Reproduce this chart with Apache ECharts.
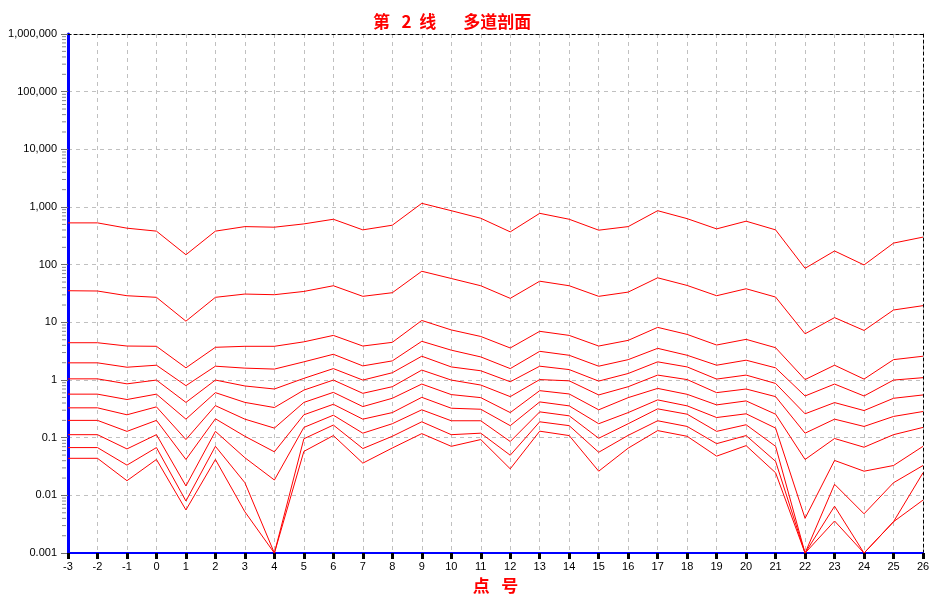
<!DOCTYPE html>
<html>
<head>
<meta charset="utf-8">
<script src="https://cdn.jsdelivr.net/npm/echarts@6/dist/echarts.min.js"></script>
<style>
html,body{margin:0;padding:0;background:#fff;overflow:hidden;}
#main{width:938px;height:599px;}
</style>
</head>
<body>
<div id="main"></div>
<script>
// Point numbers (x axis)
const points = [-3,-2,-1,0,1,2,3,4,5,6,7,8,9,10,11,12,13,14,15,16,17,18,19,20,21,22,23,24,25,26];

// Channel values (one array per trace, top to bottom)
const ch1 = [531,531,430,382,149,382,458,447,510,614,402,484,1159,864,639,371,778,614,397,458,864,629,418,568,402,86.7,173,99,237,301];
const ch2 = [35.4,35,29,27.2,10.5,27.2,31,30.2,34.4,43.2,28.3,32.7,77,57.7,43.2,26.1,51.8,43.2,28.3,33.5,59.3,43.7,29,38.3,27.5,6.34,12.1,7.25,16.4,19.5];
const ch3 = [4.44,4.44,3.89,3.85,1.63,3.7,3.85,3.85,4.6,5.95,3.89,4.51,10.8,7.4,5.7,3.6,7.0,5.95,3.89,4.88,8.2,6.19,4.05,5.08,3.64,1.02,1.81,1.04,2.26,2.59];
const ch4 = [1.99,1.99,1.67,1.81,0.80,1.74,1.61,1.55,2.07,2.80,1.76,2.15,4.7,3.3,2.52,1.58,3.15,2.69,1.74,2.26,3.55,2.69,1.81,2.21,1.63,0.53,0.853,0.53,1.0,1.1];
const ch5 = [1.05,1.05,0.86,1.0,0.41,1.0,0.79,0.70,1.07,1.58,1.0,1.34,2.59,1.69,1.45,0.935,1.74,1.52,0.96,1.3,2.07,1.69,1.04,1.22,0.874,0.26,0.407,0.296,0.483,0.552];
const ch6 = [0.57,0.57,0.46,0.57,0.21,0.605,0.41,0.334,0.67,1.0,0.589,0.767,1.49,1.0,0.82,0.516,1.02,0.97,0.552,0.767,1.22,1.02,0.605,0.70,0.516,0.12,0.21,0.157,0.234,0.285];
const ch7 = [0.33,0.33,0.25,0.343,0.093,0.36,0.21,0.147,0.41,0.612,0.347,0.483,0.853,0.56,0.496,0.273,0.655,0.574,0.305,0.496,0.717,0.566,0.371,0.435,0.256,0.042,0.097,0.0685,0.113,0.151];
const ch8 = [0.2,0.2,0.129,0.2,0.042,0.213,0.106,0.057,0.25,0.38,0.21,0.273,0.502,0.325,0.312,0.162,0.418,0.357,0.175,0.273,0.453,0.357,0.224,0.26,0.147,0.004,0.0404,0.0263,0.033,0.071];
const ch9 = [0.113,0.113,0.064,0.113,0.0146,0.129,0.045,0.0185,0.151,0.246,0.12,0.175,0.305,0.197,0.197,0.086,0.281,0.24,0.098,0.175,0.317,0.256,0.129,0.168,0.071,0.001,0.0156,0.0048,0.0166,0.033];
const ch10 = [0.0675,0.0675,0.0335,0.0675,0.008,0.071,0.0166,0.001,0.096,0.166,0.065,0.106,0.189,0.113,0.12,0.0498,0.189,0.162,0.056,0.11,0.197,0.157,0.079,0.109,0.039,0.001,0.0065,0.001,0.0035,0.0247];
const ch11 = [0.044,0.044,0.018,0.042,0.0056,0.042,0.0052,0.001,0.058,0.109,0.0363,0.0664,0.118,0.071,0.093,0.0289,0.13,0.109,0.0263,0.066,0.133,0.106,0.048,0.073,0.0247,0.001,0.0036,0.001,0.0035,0.0083];

const channels = [ch1,ch2,ch3,ch4,ch5,ch6,ch7,ch8,ch9,ch10,ch11];

// Axis settings
const yMin = 0.001, yMax = 1000000;
const decadeExps = [-3,-2,-1,0,1,2,3,4,5];
const minorMultipliers = [2,3,4,5,6,7,8,9];

function fmtY(v){
  if (v >= 1) return String(Math.round(v)).replace(/\B(?=(\d{3})+(?!\d))/g, ',');
  return String(+v.toPrecision(1));
}

const minorTickData = [];
decadeExps.forEach(e => minorMultipliers.forEach(m => minorTickData.push([points[0], +(m * Math.pow(10, e)).toPrecision(2)])));

const lineSeries = channels.map((ch, k) => ({
  name: 'ch' + (k + 1),
  type: 'line',
  xAxisIndex: 0, yAxisIndex: 0,
  data: points.map((x, i) => [x, ch[i]]),
  symbol: 'none',
  showSymbol: false,
  lineStyle: {color: '#ff0000', width: 1},
  itemStyle: {color: '#ff0000'},
  animation: false,
  z: 3
}));

const minorSeries = {
  type: 'custom',
  xAxisIndex: 0, yAxisIndex: 0,
  data: minorTickData,
  clip: false,
  silent: true,
  animation: false,
  z: 4,
  renderItem: function(params, api){
    const p = api.coord([api.value(0), api.value(1)]);
    return {type: 'line', shape: {x1: p[0] - 6, y1: p[1], x2: p[0] - 2, y2: p[1]},
            style: {stroke: '#8a8a8a', lineWidth: 1}};
  }
};

const chart = echarts.init(document.getElementById('main'), null, {renderer: 'canvas'});
chart.setOption({
  backgroundColor: '#ffffff',
  animation: false,
  title: {
    text: '第   2  线       多道剖面',
    left: 368, top: 8,
    textStyle: {color: '#ff0000', fontSize: 17, fontWeight: 'bold', fontFamily: 'Noto Sans CJK SC'}
  },
  grid: {left: 68, right: 15, top: 34, bottom: 42, containLabel: false},
  xAxis: [{
    type: 'value', min: -3, max: 26, interval: 1, position: 'bottom',
    name: '点   号', nameLocation: 'middle', nameGap: 21,
    nameTextStyle: {color: '#ff0000', fontSize: 17, fontWeight: 'bold', fontFamily: 'Noto Sans CJK SC'},
    axisLine: {show: true, onZero: false, lineStyle: {color: '#0000ff', width: 2}},
    axisTick: {show: true, length: 6, lineStyle: {color: '#000000', width: 3}},
    axisLabel: {color: '#000000', fontSize: 11, fontFamily: 'Liberation Sans, Arial, sans-serif', margin: 8},
    splitLine: {show: true, lineStyle: {color: '#c0c0c0', type: [4, 4], width: 1}}
  }, {
    type: 'value', min: -3, max: 26, interval: 1, position: 'top',
    axisLine: {show: true, onZero: false, lineStyle: {color: '#000000', type: [3, 3], width: 1}},
    axisTick: {show: false}, axisLabel: {show: false}, splitLine: {show: false}
  }],
  yAxis: [{
    type: 'log', logBase: 10, min: yMin, max: yMax, position: 'left',
    axisLine: {show: true, onZero: false, lineStyle: {color: '#0000ff', width: 3}},
    axisTick: {show: true, length: 7, lineStyle: {color: '#6e6e6e', width: 1}},
    axisLabel: {color: '#000000', fontSize: 11, fontFamily: 'Liberation Sans, Arial, sans-serif', margin: 11, formatter: fmtY},
    splitLine: {show: true, lineStyle: {color: '#c0c0c0', type: [4, 4], width: 1}}
  }, {
    type: 'log', logBase: 10, min: yMin, max: yMax, position: 'right',
    axisLine: {show: true, onZero: false, lineStyle: {color: '#000000', type: [3, 3], width: 1}},
    axisTick: {show: false}, axisLabel: {show: false}, splitLine: {show: false}
  }],
  series: lineSeries.concat([minorSeries])
});
</script>
</body>
</html>
